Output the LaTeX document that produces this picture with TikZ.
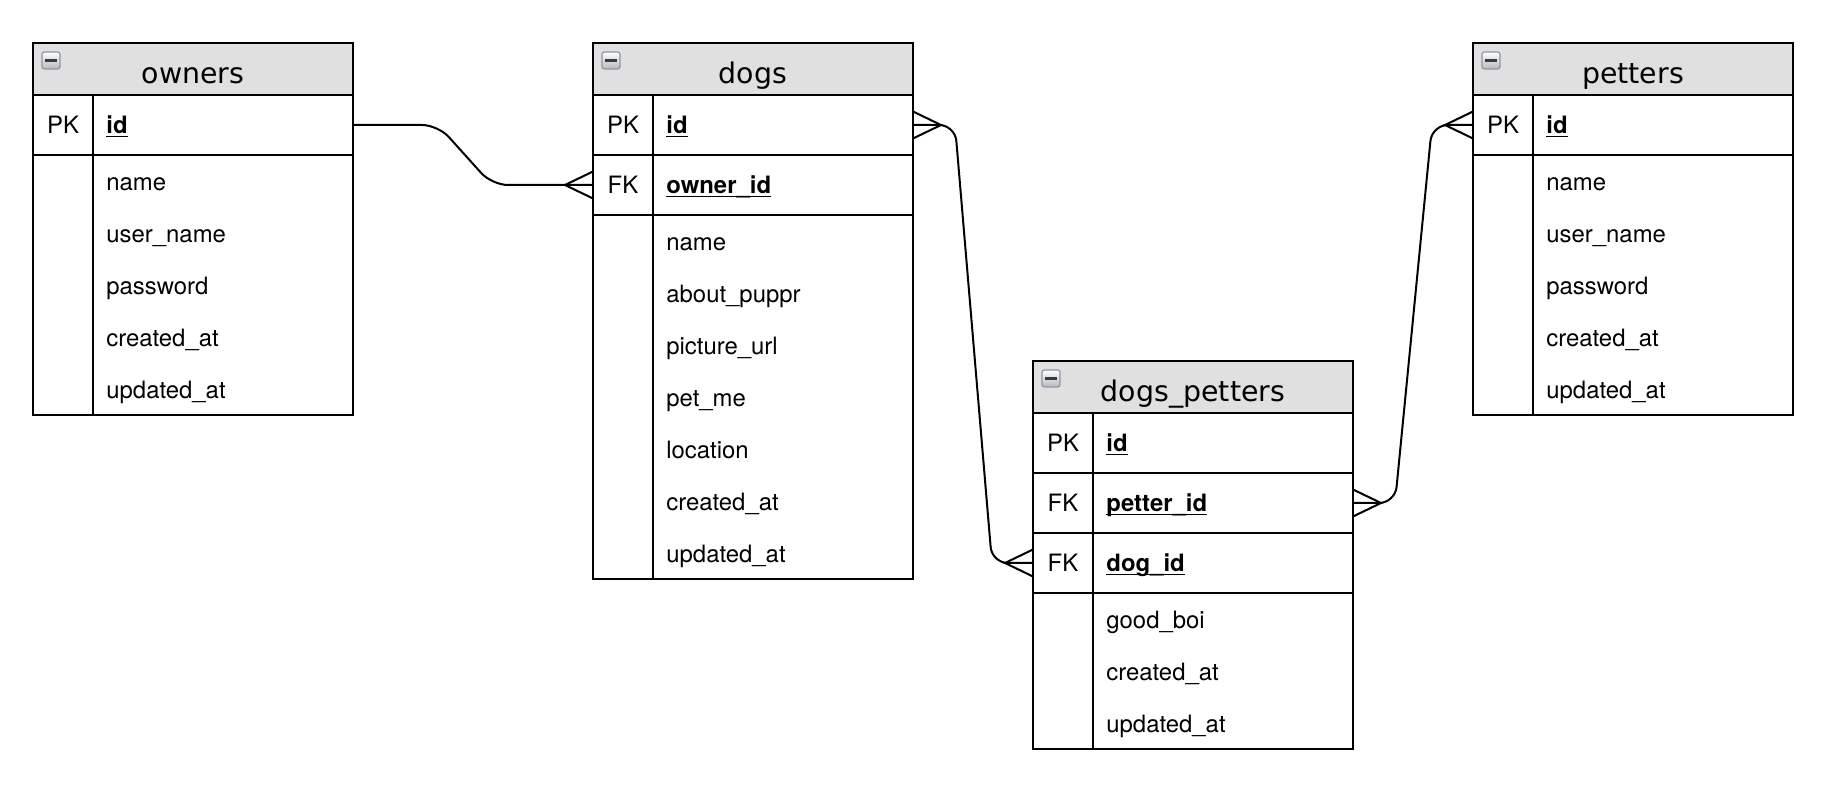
\documentclass[tikz,border=0pt]{standalone}
\usepackage{fontspec}
\usetikzlibrary{calc}
\newfontfamily\herosfam{TeX Gyre Heros}
\newfontfamily\dejafam{DejaVu Sans}
\newcommand\bodyfnt{\herosfam\fontsize{11.95pt}{13.5pt}\selectfont}
\newcommand\titlefnt{\dejafam\fontsize{14.2pt}{16.5pt}\selectfont}
\newcommand\ulb[1]{\setbox0\hbox{\bfseries #1}\rlap{\rule[-1.6pt]{\wd0}{0.75pt}}\box0}
\definecolor{hdrgray}{HTML}{E0E0E0}
\definecolor{iconedge}{HTML}{8A98A6}
\definecolor{iconminus}{HTML}{3A3A3A}
\tikzset{
  tbox/.style={draw, line width=1.2pt, inner sep=0pt, outer sep=0pt, minimum width=160pt, anchor=north west},
  hdr/.style={tbox, fill=hdrgray, minimum height=26pt},
  krow/.style={tbox, minimum height=30pt},
  ttl/.style={font=\titlefnt, anchor=base, inner sep=0pt},
  ktxt/.style={font=\bodyfnt, anchor=base, inner sep=0pt},
  ftxt/.style={font=\bodyfnt, anchor=base west, inner sep=0pt},
  tline/.style={line width=1.2pt},
  iconbox/.style={draw=iconedge, line width=0.6pt, rounded corners=1.2pt, top color=white, bottom color=black!28},
  conn/.style={line width=1pt, rounded corners=8pt},
  crow/.style={line width=1pt},
}
\newcommand\tblhead[4]{%
  \node[hdr] (#1-h) at (#2,#3) {};
  \node[ttl] (#1-t) at ($(#1-h.south)+(0,-11)$) {#4};
  \draw[iconbox] ($(#1-h.north west)+(9,9)$) rectangle ($(#1-h.north west)+(27,26)$);
  \fill[iconminus] ($(#1-h.north west)+(12,16.3)$) rectangle ($(#1-h.north west)+(24,19)$);
}
\newcommand\keyrow[4]{%
  \node[krow] (#1) at (#2.south west) {};
  \node[ktxt] (#1-k) at ($(#1.west)+(30,9)$) {#3};
  \node[ftxt] (#1-f) at ($(#1.west)+(73,9)$) {\ulb{#4}};
}
\newcommand\attrblock[4]{%
  \node[tbox, minimum height=#3] (#1) at (#2.south west) {};
  \foreach \t [count=\i from 0] in {#4}
    \node[ftxt] (#1\i) at ($(#1.north west)+(73,{36+52*\i})$) {\t};
}
\newcommand\divider[2]{%
  \draw[tline] ($(#1.south west)+(60,0)$) -- ($(#2.south west)+(60,0)$);
}
\begin{document}
\begin{tikzpicture}[x=0.5pt,y=-0.5pt]
\useasboundingbox (0,0) rectangle (1828,796);
% owners
\tblhead{owners}{33}{43}{owners}
\keyrow{owners-id}{owners-h}{PK}{id}
\attrblock{owners-a}{owners-id}{130pt}{name,user\_name,password,created\_at,updated\_at}
\divider{owners-h}{owners-a}
% dogs
\tblhead{dogs}{593}{43}{dogs}
\keyrow{dogs-id}{dogs-h}{PK}{id}
\keyrow{dogs-oid}{dogs-id}{FK}{owner\_id}
\attrblock{dogs-a}{dogs-oid}{182pt}{name,about\_puppr,picture\_url,pet\_me,location,created\_at,updated\_at}
\divider{dogs-h}{dogs-a}
% dogs_petters
\tblhead{dp}{1033}{361}{dogs\_petters}
\keyrow{dp-id}{dp-h}{PK}{id}
\keyrow{dp-pid}{dp-id}{FK}{petter\_id}
\keyrow{dp-did}{dp-pid}{FK}{dog\_id}
\attrblock{dp-a}{dp-did}{78pt}{good\_boi,created\_at,updated\_at}
\divider{dp-h}{dp-a}
% petters
\tblhead{petters}{1473}{43}{petters}
\keyrow{petters-id}{petters-h}{PK}{id}
\attrblock{petters-a}{petters-id}{130pt}{name,user\_name,password,created\_at,updated\_at}
\divider{petters-h}{petters-a}
% connector owners.id -> dogs.owner_id
\draw[conn] (owners-id.east) -- ++(85,0) -- ($(dogs-oid.west)+(-101,0)$) -- (dogs-oid.west);
\draw[crow] ($(dogs-oid.west)+(0,-13.5)$) -- ($(dogs-oid.west)+(-28,0)$) -- ($(dogs-oid.west)+(0,13.5)$);
% connector dogs.id -> dogs_petters.dog_id
\draw[conn] (dogs-id.east) -- ++(42,0) -- ($(dp-did.west)+(-41,0)$) -- (dp-did.west);
\draw[crow] ($(dogs-id.east)+(0,-13.5)$) -- ($(dogs-id.east)+(28,0)$) -- ($(dogs-id.east)+(0,13.5)$);
\draw[crow] ($(dp-did.west)+(0,-13.5)$) -- ($(dp-did.west)+(-28,0)$) -- ($(dp-did.west)+(0,13.5)$);
% connector dogs_petters.petter_id -> petters.id
\draw[conn] (dp-pid.east) -- ++(42,0) -- ($(petters-id.west)+(-41,0)$) -- (petters-id.west);
\draw[crow] ($(dp-pid.east)+(0,-13.5)$) -- ($(dp-pid.east)+(28,0)$) -- ($(dp-pid.east)+(0,13.5)$);
\draw[crow] ($(petters-id.west)+(0,-13.5)$) -- ($(petters-id.west)+(-28,0)$) -- ($(petters-id.west)+(0,13.5)$);
\end{tikzpicture}
\end{document}
